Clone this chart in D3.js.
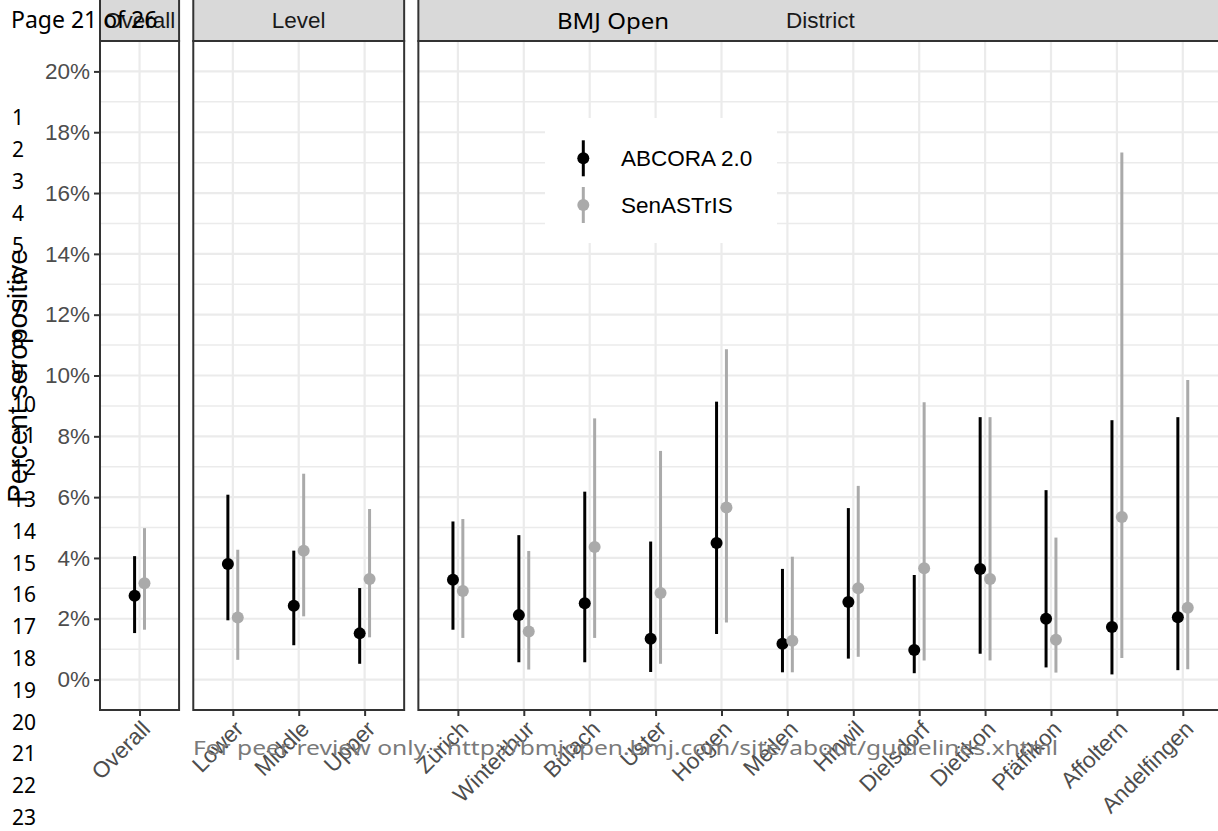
<!doctype html>
<html>
<head>
<meta charset="utf-8">
<script src="https://cdnjs.cloudflare.com/ajax/libs/d3/7.8.5/d3.min.js"></script>
<style>
  body { margin: 0; background: #fff; }
  svg { display: block; }
</style>
</head>
<body>
<svg id="chart" width="1218" height="831"></svg>
<script>
// facets and categories
var facetNames = ["Overall", "Level", "District"];
var overallCats = ["Overall"];
var levelCats = ["Lower", "Middle", "Upper"];
var districtCats = ["Zürich", "Winterthur", "Bülach", "Uster", "Horgen", "Meilen",
  "Hinwil", "Dielsdorf", "Dietikon", "Pfäffikon", "Affoltern", "Andelfingen"];

// values in %, same order as overall + level + district
var abcoraEst  = [2.76, 3.80, 2.43, 1.52, 3.28, 2.12, 2.51, 1.34, 4.49, 1.18, 2.55, 0.97, 3.64, 2.00, 1.73, 2.05];
var abcoraLow  = [1.53, 1.95, 1.13, 0.52, 1.64, 0.57, 0.57, 0.25, 1.50, 0.24, 0.69, 0.21, 0.85, 0.40, 0.17, 0.31];
var abcoraHigh = [4.06, 6.08, 4.24, 3.01, 5.20, 4.75, 6.18, 4.54, 9.14, 3.64, 5.64, 3.44, 8.63, 6.23, 8.53, 8.63];
var senEst  = [3.17, 2.04, 4.24, 3.31, 2.91, 1.58, 4.36, 2.85, 5.66, 1.28, 3.00, 3.66, 3.31, 1.31, 5.35, 2.36];
var senLow  = [1.64, 0.65, 2.08, 1.39, 1.37, 0.33, 1.37, 0.52, 1.88, 0.24, 0.75, 0.63, 0.63, 0.23, 0.71, 0.34];
var senHigh = [4.98, 4.27, 6.77, 5.61, 5.28, 4.23, 8.59, 7.52, 10.86, 4.04, 6.37, 9.12, 8.63, 4.67, 17.33, 9.85];

var seriesNames = ["ABCORA 2.0", "SenASTrIS"];
var seriesColors = ["#000000", "#aaaaaa"];
var yTicks = [0, 2, 4, 6, 8, 10, 12, 14, 16, 18, 20];
var yMinor = [1, 3, 5, 7, 9, 11, 13, 15, 17, 19];

var svg = d3.select("#chart");
svg.append("rect").attr("width", 1218).attr("height", 831).attr("fill", "#fff");

var chartFont = "'Liberation Sans', Arial, sans-serif";
var pageFont = "'Noto Sans', 'Open Sans', sans-serif";

var panelTop = 41, panelBottom = 710;
var y = d3.scaleLinear().domain([-1, 21]).range([panelBottom, panelTop]);

// build rows
var allCats = overallCats.concat(levelCats, districtCats);
var rows = allCats.map(function(c, i) {
  return { cat: c, est: [abcoraEst[i], senEst[i]], low: [abcoraLow[i], senLow[i]], high: [abcoraHigh[i], senHigh[i]] };
});

// panels, width proportional to number of categories (free space)
var unit = 65.9, gap = 14.2, cx = 100;
var panels = [overallCats, levelCats, districtCats].map(function(cats, i) {
  var w = (cats.length - 1 + 1.2) * unit;
  var sx = d3.scalePoint().domain(cats).range([cx, cx + w]).padding(0.6);
  var p = { name: facetNames[i], cats: cats, x: sx, left: cx, right: cx + w };
  cx += w + gap;
  return p;
});
var dodge = 0.075 * unit;

panels.forEach(function(p, pi) {
  var g = svg.append("g");
  var w = p.right - p.left;
  g.append("rect").attr("x", p.left).attr("y", panelTop).attr("width", w).attr("height", panelBottom - panelTop).attr("fill", "#fff");

  g.selectAll(".minor").data(yMinor).enter().append("line")
    .attr("x1", p.left).attr("x2", p.right)
    .attr("y1", function(d) { return y(d); }).attr("y2", function(d) { return y(d); })
    .attr("stroke", "#ebebeb").attr("stroke-width", 1.5);
  g.selectAll(".major").data(yTicks).enter().append("line")
    .attr("x1", p.left).attr("x2", p.right)
    .attr("y1", function(d) { return y(d); }).attr("y2", function(d) { return y(d); })
    .attr("stroke", "#ebebeb").attr("stroke-width", 2.2);
  g.selectAll(".vmajor").data(p.cats).enter().append("line")
    .attr("x1", function(d) { return p.x(d); }).attr("x2", function(d) { return p.x(d); })
    .attr("y1", panelTop).attr("y2", panelBottom)
    .attr("stroke", "#ebebeb").attr("stroke-width", 2.2);

  var pr = rows.filter(function(r) { return p.cats.indexOf(r.cat) >= 0; });
  [0, 1].forEach(function(s) {
    var off = s === 0 ? -dodge : dodge;
    g.selectAll(".rng" + s).data(pr).enter().append("line")
      .attr("x1", function(d) { return p.x(d.cat) + off; })
      .attr("x2", function(d) { return p.x(d.cat) + off; })
      .attr("y1", function(d) { return y(d.low[s]); })
      .attr("y2", function(d) { return y(d.high[s]); })
      .attr("stroke", seriesColors[s]).attr("stroke-width", 3);
    g.selectAll(".pt" + s).data(pr).enter().append("circle")
      .attr("cx", function(d) { return p.x(d.cat) + off; })
      .attr("cy", function(d) { return y(d.est[s]); })
      .attr("r", 6).attr("fill", seriesColors[s]);
  });

  g.append("rect").attr("x", p.left).attr("y", panelTop).attr("width", w).attr("height", panelBottom - panelTop)
    .attr("fill", "none").attr("stroke", "#333333").attr("stroke-width", 2);

  // strip
  g.append("rect").attr("x", p.left).attr("y", -1).attr("width", w).attr("height", panelTop + 1)
    .attr("fill", "#d9d9d9").attr("stroke", "#333333").attr("stroke-width", 2);
  g.append("text").attr("x", (p.left + p.right) / 2).attr("y", 20).attr("dy", "0.35em")
    .attr("text-anchor", "middle").attr("font-family", chartFont).attr("font-size", 22.5)
    .attr("fill", "#1a1a1a").text(p.name);

  // x axis
  var ax = svg.append("g").attr("transform", "translate(0," + panelBottom + ")")
    .call(d3.axisBottom(p.x).tickSize(6).tickSizeOuter(0));
  ax.select(".domain").remove();
  ax.selectAll(".tick line").attr("stroke", "#333333").attr("stroke-width", 2);
  ax.selectAll(".tick text")
    .attr("x", 0).attr("y", 0).attr("dy", "0.72em")
    .attr("transform", "translate(0,9) rotate(-45)")
    .attr("text-anchor", "end")
    .attr("font-family", chartFont).attr("font-size", 22.5).attr("fill", "#4d4d4d");

  if (pi === 0) {
    var ay = svg.append("g").attr("transform", "translate(" + p.left + ",0)")
      .call(d3.axisLeft(y).tickValues(yTicks).tickSize(6).tickPadding(4)
        .tickFormat(function(d) { return d + "%"; }));
    ay.select(".domain").remove();
    ay.selectAll(".tick line").attr("stroke", "#333333").attr("stroke-width", 2);
    ay.selectAll(".tick text").attr("font-family", chartFont).attr("font-size", 22.5).attr("fill", "#4d4d4d");
  }
});

// legend
var lg = svg.append("g");
lg.append("rect").attr("x", 545).attr("y", 118).attr("width", 232).attr("height", 125).attr("fill", "#fff");
seriesNames.forEach(function(name, i) {
  var ky = 158.3 + i * 46.7;
  lg.append("line").attr("x1", 583.3).attr("x2", 583.3).attr("y1", ky - 18).attr("y2", ky + 18)
    .attr("stroke", seriesColors[i]).attr("stroke-width", 3);
  lg.append("circle").attr("cx", 583.3).attr("cy", ky).attr("r", 6).attr("fill", seriesColors[i]);
  lg.append("text").attr("x", 621).attr("y", ky).attr("dy", "0.35em")
    .attr("font-family", chartFont).attr("font-size", 22.5).attr("fill", "#000").text(name);
});

// y axis title
svg.append("text").attr("transform", "translate(27,376) rotate(-90)")
  .attr("text-anchor", "middle").attr("font-family", chartFont).attr("font-size", 28)
  .attr("fill", "#000").text("Percent seropositive");

// page overlay: line numbers, header, watermark
var lineNums = d3.range(1, 24);
svg.selectAll(".ln").data(lineNums).enter().append("text")
  .attr("x", 12).attr("y", function(d) { return 118 + (d - 1) * 31.8; }).attr("dy", "0.35em")
  .attr("font-family", pageFont).attr("font-size", 21).attr("fill", "#000")
  .text(function(d) { return d; });

svg.append("text").attr("x", 11).attr("y", 28)
  .attr("font-family", pageFont).attr("font-size", 23).attr("fill", "#000").text("Page 21 of 26");
svg.append("text").attr("x", 557).attr("y", 29).attr("textLength", 112).attr("lengthAdjust", "spacingAndGlyphs")
  .attr("font-family", pageFont).attr("font-size", 21).attr("fill", "#000").text("BMJ Open");
svg.append("text").attr("x", 193).attr("y", 755).attr("textLength", 865).attr("lengthAdjust", "spacingAndGlyphs")
  .attr("font-family", pageFont).attr("font-size", 20).attr("fill", "#7a7a7a")
  .text("For peer review only - http://bmjopen.bmj.com/site/about/guidelines.xhtml");
</script>
</body>
</html>
